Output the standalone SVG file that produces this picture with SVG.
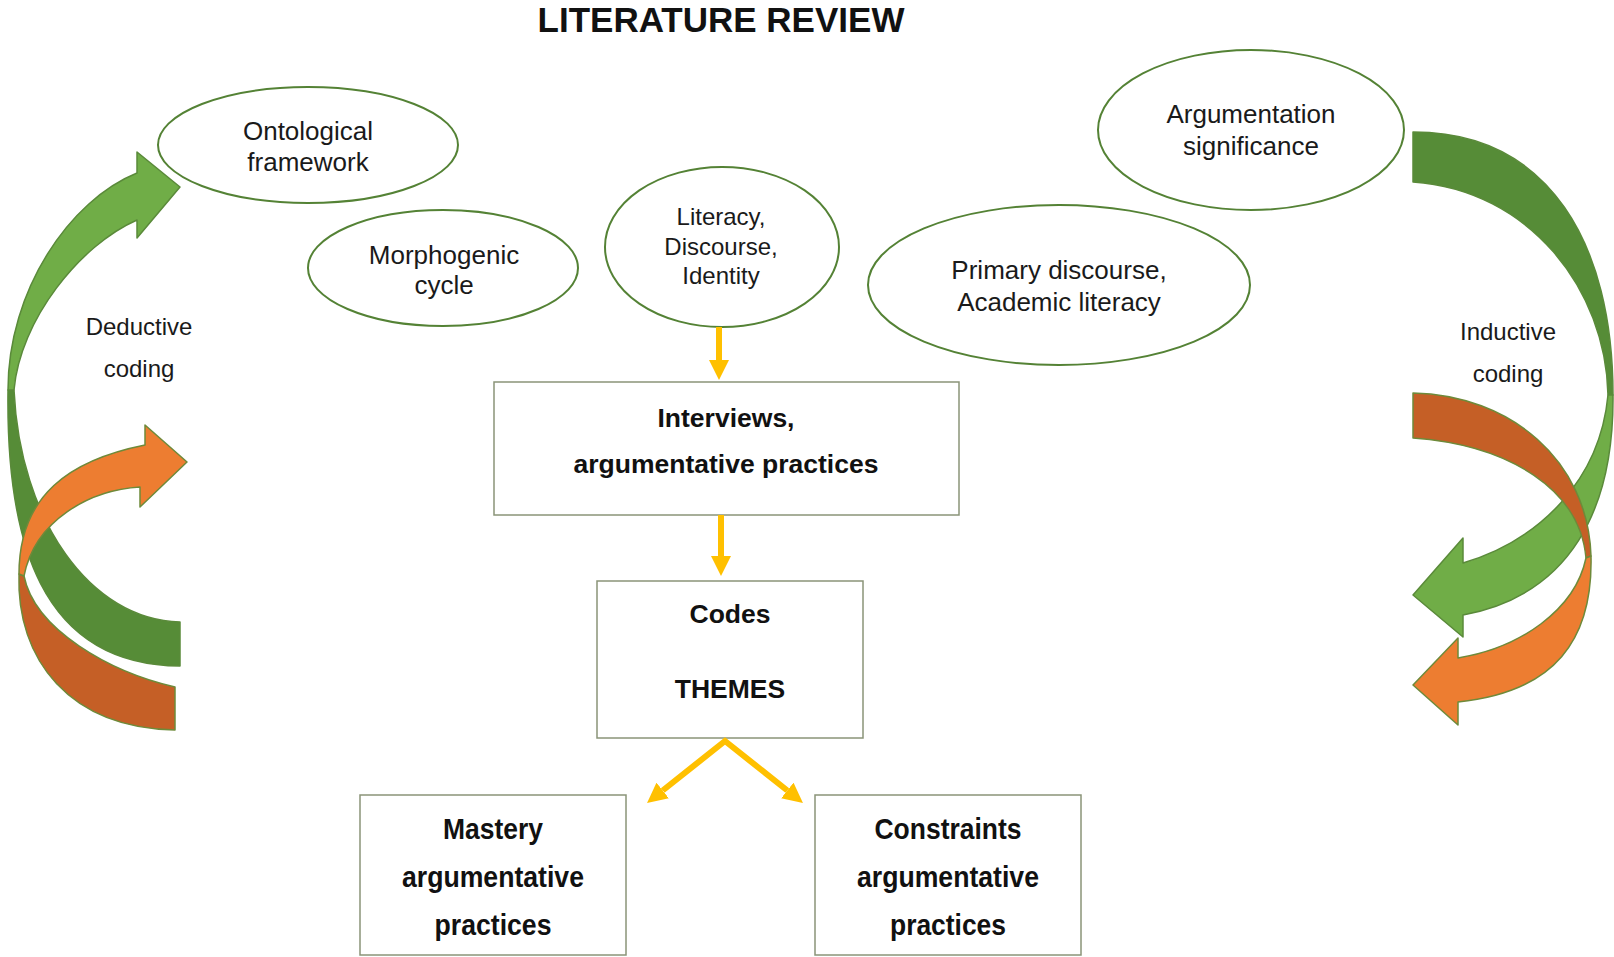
<svg xmlns="http://www.w3.org/2000/svg" width="1614" height="957" viewBox="0 0 1614 957">
  <style>
    .bg { fill: #ffffff; }
    .title { font-family: "Liberation Sans", Arial, sans-serif; font-weight: bold; font-size: 35px; fill: #111111; text-anchor: middle; }
    .oval { fill: #ffffff; stroke: #548235; stroke-width: 2; }
    .otext { font-family: "Liberation Sans", Arial, sans-serif; font-size: 26px; fill: #1a1a1a; text-anchor: middle; }
    .otext-s { font-family: "Liberation Sans", Arial, sans-serif; font-size: 24px; fill: #1a1a1a; text-anchor: middle; }
    .box { fill: #ffffff; stroke: #8a9478; stroke-width: 1.5; }
    .btext { font-family: "Liberation Sans", Arial, sans-serif; font-weight: bold; font-size: 26.5px; fill: #111111; text-anchor: middle; }
    .ntext { font-family: "Liberation Sans", Arial, sans-serif; font-weight: bold; font-size: 30px; fill: #111111; text-anchor: middle; }
    .label { font-family: "Liberation Sans", Arial, sans-serif; font-size: 24px; fill: #1a1a1a; text-anchor: middle; }
    .flow { fill: none; stroke: #FFC000; stroke-width: 6; stroke-linejoin: miter; }
    .g-front { fill: #70AD47; stroke: #5A8A3A; stroke-width: 1.5; stroke-linejoin: round; }
    .g-back { fill: #568C37; stroke: #5A8A3A; stroke-width: 1.5; stroke-linejoin: round; }
    .o-front { fill: #ED7D31; stroke: #6E8A3A; stroke-width: 1.5; stroke-linejoin: round; }
    .o-back { fill: #C55F26; stroke: #6E8A3A; stroke-width: 1.5; stroke-linejoin: round; }
  </style>
  <defs>
    <marker id="head" viewBox="0 0 20 20" refX="0" refY="10" markerUnits="userSpaceOnUse" markerWidth="20" markerHeight="20" orient="auto-start-reverse">
      <path d="M0,0 L20,10 L0,20 Z" fill="#FFC000"/>
    </marker>
  </defs>

  <rect class="bg" x="0" y="0" width="1614" height="957"/>

  <text id="title" class="title" x="721" y="32">LITERATURE REVIEW</text>

  <!-- deductive cycle arrows (left) -->
  <g id="deductive-arrows">
    <path class="g-back" d="M8,390 C6,540 40,665 180,666 L180,622 C90,620 20,520 14,390 Z"/>
    <path class="g-front" d="M8,390 C8,290 70,200 137,173 L137,152 L180,187 L137,238 L137,220 C80,245 20,320 14,390 Z"/>
    <path class="o-back" d="M19,574 C16,660 70,728 175,730 L175,687 C110,672 35,630 24,576 Z"/>
    <path class="o-front" d="M19,574 C19,495 70,460 145,445 L145,425 L187,462 L140,507 L140,487 C90,490 35,520 24,576 Z"/>
  </g>
  <g id="deductive-label">
    <text class="label" x="139" y="335">Deductive</text>
    <text class="label" x="139" y="377">coding</text>
  </g>

  <!-- inductive cycle arrows (right) -->
  <g id="inductive-arrows">
    <path class="g-back" d="M1413,132 C1550,132 1613,245 1613,395 L1608,395 C1606,290 1530,190 1413,182 Z"/>
    <path class="g-front" d="M1613,395 C1614,510 1570,595 1463,615 L1463,637 L1413,595 L1463,538 L1463,563 C1540,540 1600,480 1608,395 Z"/>
    <path class="o-back" d="M1413,393 C1510,395 1588,460 1591,556 L1586,558 C1580,490 1510,445 1413,438 Z"/>
    <path class="o-front" d="M1591,556 C1593,640 1555,692 1458,702 L1458,725 L1413,685 L1458,638 L1458,658 C1520,648 1575,610 1586,558 Z"/>
  </g>
  <g id="inductive-label">
    <text class="label" x="1508" y="340">Inductive</text>
    <text class="label" x="1508" y="382">coding</text>
  </g>

  <!-- literature nodes -->
  <g id="ontological">
    <ellipse class="oval" cx="308" cy="145" rx="150" ry="58"/>
    <text class="otext" x="308" y="140">Ontological</text>
    <text class="otext" x="308" y="171">framework</text>
  </g>
  <g id="morphogenic">
    <ellipse class="oval" cx="443" cy="268" rx="135" ry="58"/>
    <text class="otext" x="444" y="264">Morphogenic</text>
    <text class="otext" x="444" y="294">cycle</text>
  </g>
  <g id="literacy">
    <ellipse class="oval" cx="722" cy="247" rx="117" ry="80"/>
    <text class="otext-s" x="721" y="225">Literacy,</text>
    <text class="otext-s" x="721" y="255">Discourse,</text>
    <text class="otext-s" x="721" y="284">Identity</text>
  </g>
  <g id="primary-discourse">
    <ellipse class="oval" cx="1059" cy="285" rx="191" ry="80"/>
    <text class="otext" x="1059" y="279">Primary discourse,</text>
    <text class="otext" x="1059" y="311">Academic literacy</text>
  </g>
  <g id="argumentation">
    <ellipse class="oval" cx="1251" cy="130" rx="153" ry="80"/>
    <text class="otext" x="1251" y="123">Argumentation</text>
    <text class="otext" x="1251" y="155">significance</text>
  </g>

  <!-- analysis nodes -->
  <g id="interviews">
    <rect class="box" x="494" y="382" width="465" height="133"/>
    <text class="btext" x="726" y="427">Interviews,</text>
    <text class="btext" x="726" y="473">argumentative practices</text>
  </g>
  <g id="codes">
    <rect class="box" x="597" y="581" width="266" height="157"/>
    <text class="btext" x="730" y="623">Codes</text>
    <text class="btext" x="730" y="698">THEMES</text>
  </g>
  <g id="mastery">
    <rect class="box" x="360" y="795" width="266" height="160"/>
    <text class="ntext" x="493" y="839" textLength="100" lengthAdjust="spacingAndGlyphs">Mastery</text>
    <text class="ntext" x="493" y="887" textLength="182" lengthAdjust="spacingAndGlyphs">argumentative</text>
    <text class="ntext" x="493" y="935" textLength="117" lengthAdjust="spacingAndGlyphs">practices</text>
  </g>
  <g id="constraints">
    <rect class="box" x="815" y="795" width="266" height="160"/>
    <text class="ntext" x="948" y="839" textLength="147" lengthAdjust="spacingAndGlyphs">Constraints</text>
    <text class="ntext" x="948" y="887" textLength="182" lengthAdjust="spacingAndGlyphs">argumentative</text>
    <text class="ntext" x="948" y="935" textLength="116" lengthAdjust="spacingAndGlyphs">practices</text>
  </g>

  <!-- connectors -->
  <g id="connectors">
    <line class="flow" x1="719" y1="327" x2="719" y2="360" marker-end="url(#head)"/>
    <line class="flow" x1="721" y1="515" x2="721" y2="556" marker-end="url(#head)"/>
    <path class="flow" d="M662.7,790.5 L725,741 L787.3,790.5" marker-start="url(#head)" marker-end="url(#head)"/>
  </g>
</svg>
